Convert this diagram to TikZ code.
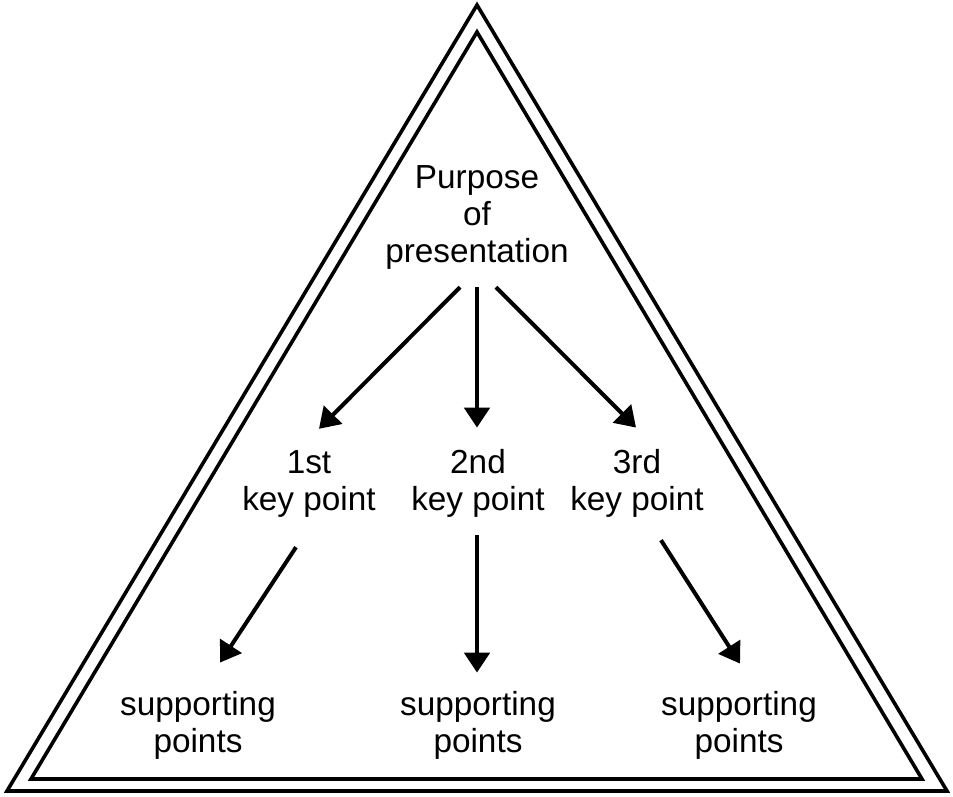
\documentclass[tikz,border=0pt]{standalone}
\usepackage{fontspec}
\setmainfont{Liberation Sans}
\usetikzlibrary{arrows.meta,calc}
\begin{document}
\begin{tikzpicture}[x=0.75pt,y=-0.75pt,
  lbl/.style={font=\fontsize{25}{27.75}\selectfont, align=center, inner sep=0pt, anchor=base},
  arr/.style={line width=3pt, -{Triangle[length=15pt,width=19pt]}},
  tri/.style={line width=2.7pt, line join=miter}]
\useasboundingbox (0,0) rectangle (953,796);
% triangles
\draw[tri] (477,5) -- (947,791) -- (7,791) -- cycle;
\draw[tri] (477,32) -- (922,779) -- (31,779) -- cycle;
% labels (anchored at the baseline of their last line)
\node[lbl] (p) at (477,262) {Purpose\\of\\presentation};
\node[lbl] (k1) at (309,510) {1st\\key point};
\node[lbl] (k2) at (478,510) {2nd\\key point};
\node[lbl] (k3) at (637,510) {3rd\\key point};
\node[lbl] (s1) at (198,752) {supporting\\points};
\node[lbl] (s2) at (478,752) {supporting\\points};
\node[lbl] (s3) at (739,752) {supporting\\points};
% connectors
\draw[arr] ($(p.south)+(-17,18)$) -- ($(k1.north)+(10,-21)$);
\draw[arr] ($(p.south)+(0,18)$) -- ($(k2.north)+(-1,-21)$);
\draw[arr] ($(p.south)+(19,18)$) -- ($(k3.north)+(-1,-21)$);
\draw[arr] ($(k1.south)+(-13,30)$) -- ($(s1.north)+(22,-28)$);
\draw[arr] ($(k2.south)+(-1,18)$) -- ($(s2.north)+(-1,-18)$);
\draw[arr] ($(k3.south)+(24,23)$) -- ($(s3.north)+(1,-27)$);
\end{tikzpicture}
\end{document}
